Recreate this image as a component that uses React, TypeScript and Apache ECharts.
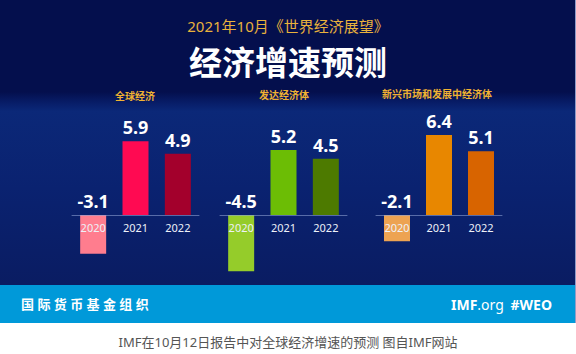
import React, { useEffect, useRef } from "react";
import * as echarts from "echarts";

const years = ["2020", "2021", "2022"];
const globalValues = [-3.1, 5.9, 4.9];
const advancedValues = [-4.5, 5.2, 4.5];
const emergingValues = [-2.1, 6.4, 5.1];
const panelTitles = ["全球经济", "发达经济体", "新兴市场和发展中经济体"];

const globalColors = ["#ff7d8e", "#ff0a52", "#a3002c"];
const advancedColors = ["#95cc2a", "#6cbd05", "#4d7a00"];
const emergingColors = ["#eda352", "#e88700", "#d86400"];

const FONT = "'Noto Sans', 'Noto Sans CJK SC', sans-serif";

export default function App() {
  const ref = useRef<HTMLDivElement>(null);
  useEffect(() => {
    if (!ref.current) return;
    const chart = echarts.init(ref.current, null, { renderer: "svg" });
    const panels = [
      { values: globalValues, colors: globalColors, left: 72, width: 127 },
      { values: advancedValues, colors: advancedColors, left: 220, width: 127 },
      { values: emergingValues, colors: emergingColors, left: 376, width: 126 },
    ];
    const yMin = -5;
    const yMax = 7;
    const top = 127.5;
    const height = 150;
    const zeroOffset = (yMin / (yMax - yMin)) * height; // negative: lift axis to zero
    const option: any = {
      animation: false,
      backgroundColor: "#ffffff",
      grid: panels.map((p) => ({ left: p.left, width: p.width, top, height })),
      xAxis: panels.map((p, i) => ({
        type: "category",
        gridIndex: i,
        data: years,
        z: 5,
        position: "bottom",
        offset: zeroOffset,
        axisLine: { onZero: false, lineStyle: { color: "rgba(140,160,210,0.6)", width: 1 } },
        axisTick: { show: false },
        axisLabel: { color: "#eef1f8", fontSize: 11, margin: 7, fontFamily: FONT },
      })),
      yAxis: panels.map((p, i) => ({
        type: "value",
        gridIndex: i,
        min: yMin,
        max: yMax,
        show: false,
        splitLine: { show: false },
      })),
      series: panels.map((p, i) => ({
        type: "bar",
        xAxisIndex: i,
        yAxisIndex: i,
        barWidth: 26,
        z: 2,
        data: p.values.map((v, j) => ({ value: v, itemStyle: { color: p.colors[j] } })),
        label: {
          show: true,
          position: "top",
          distance: 5,
          color: "#ffffff",
          fontSize: 18,
          fontWeight: "bold",
          fontFamily: FONT,
        },
      })),
      graphic: [
        {
          type: "rect",
          z: -10,
          silent: true,
          shape: { x: 0, y: 0, width: 576, height: 285 },
          style: { fill: "#040f4d" },
        },
        {
          type: "rect",
          z: -9,
          silent: true,
          shape: { x: 0, y: 92, width: 576, height: 193 },
          style: {
            fill: new echarts.graphic.LinearGradient(0, 0, 0, 1, [
              { offset: 0, color: "rgba(10,40,130,0)" },
              { offset: 0.1, color: "#0b2878" },
              { offset: 0.5, color: "#0a2270" },
              { offset: 1, color: "#0a1c62" },
            ]),
          },
        },
        {
          type: "rect",
          z: -8,
          silent: true,
          shape: { x: 0, y: 285, width: 576, height: 38 },
          style: { fill: "#0099d9" },
        },
        {
          type: "rect",
          z: -8,
          silent: true,
          shape: { x: 575, y: 0, width: 1, height: 323 },
          style: { fill: "#8f9cc8" },
        },
        {
          type: "text",
          x: 288,
          y: 26,
          style: {
            text: "2021年10月《世界经济展望》",
            fill: "#e9b23c",
            fontSize: 15,
            fontFamily: FONT,
            align: "center",
            verticalAlign: "middle",
          },
        },
        {
          type: "text",
          x: 288,
          y: 62,
          style: {
            text: "经济增速预测",
            fill: "#ffffff",
            fontSize: 33,
            fontWeight: "bold",
            fontFamily: FONT,
            align: "center",
            verticalAlign: "middle",
          },
        },
        ...panelTitles.map((t, i) => ({
          type: "text",
          x: [135, 284, 437][i],
          y: [96, 95, 94][i],
          style: {
            text: t,
            fill: "#f0b232",
            fontSize: 10,
            fontWeight: "bold",
            fontFamily: FONT,
            align: "center",
            verticalAlign: "middle",
          },
        })),
        {
          type: "text",
          x: 21,
          y: 304,
          style: {
            text: "国 际 货 币 基 金 组 织",
            fill: "#ffffff",
            fontSize: 13,
            fontWeight: "bold",
            fontFamily: FONT,
            align: "left",
            verticalAlign: "middle",
          },
        },
        {
          type: "text",
          x: 451,
          y: 304,
          style: {
            text: "{b|IMF}{r|.org}",
            fontFamily: FONT,
            verticalAlign: "middle",
            rich: {
              b: { fill: "#ffffff", fontSize: 14, fontWeight: "bold", fontFamily: FONT },
              r: { fill: "#ffffff", fontSize: 14, fontFamily: FONT },
            },
          } as any,
        },
        {
          type: "text",
          x: 552,
          y: 304,
          style: {
            text: "#WEO",
            fill: "#ffffff",
            fontSize: 14,
            fontWeight: "bold",
            fontFamily: FONT,
            align: "right",
            verticalAlign: "middle",
          },
        },
        {
          type: "text",
          x: 288,
          y: 342,
          style: {
            text: "IMF在10月12日报告中对全球经济增速的预测 图自IMF网站",
            fill: "#555555",
            fontSize: 13,
            fontFamily: FONT,
            align: "center",
            verticalAlign: "middle",
          },
        },
      ],
    };
    chart.setOption(option);
    return () => chart.dispose();
  }, []);
  return (
    <div
      ref={ref}
      style={{ position: "fixed", left: 0, top: 0, width: 576, height: 354 }}
    />
  );
}
